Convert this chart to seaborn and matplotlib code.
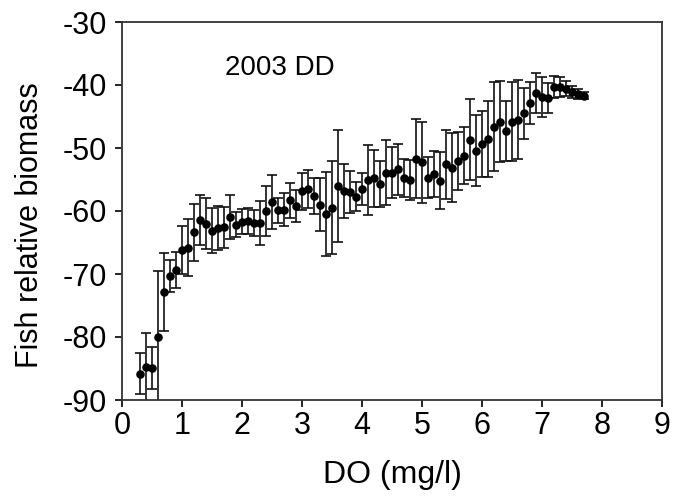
import matplotlib
matplotlib.use("Agg")
import matplotlib.pyplot as plt
import seaborn as sns
import pandas as pd

do_values = [0.3, 0.4, 0.5, 0.6, 0.7, 0.8, 0.9, 1.0, 1.1, 1.2, 1.3, 1.4, 1.5, 1.6, 1.7,
             1.8, 1.9, 2.0, 2.1, 2.2, 2.3, 2.4, 2.5, 2.6, 2.7, 2.8, 2.9, 3.0, 3.1, 3.2,
             3.3, 3.4, 3.5, 3.6, 3.7, 3.8, 3.9, 4.0, 4.1, 4.2, 4.3, 4.4, 4.5, 4.6, 4.7,
             4.8, 4.9, 5.0, 5.1, 5.2, 5.3, 5.4, 5.5, 5.6, 5.7, 5.8, 5.9, 6.0, 6.1, 6.2,
             6.3, 6.4, 6.5, 6.6, 6.7, 6.8, 6.9, 7.0, 7.1, 7.2, 7.3, 7.4, 7.5, 7.6, 7.7]

biomass = [-85.8, -84.8, -84.9, -80.0, -72.8, -70.3, -69.4, -66.2, -65.8, -63.4,
           -61.4, -62.0, -63.1, -62.7, -62.6, -61.0, -62.2, -61.7, -61.6, -61.9,
           -61.9, -60.0, -58.6, -59.9, -59.8, -58.3, -59.2, -56.9, -56.5, -57.6,
           -59.0, -60.5, -59.5, -56.0, -56.8, -57.0, -57.7, -56.5, -55.1, -54.8,
           -55.7, -53.9, -53.9, -53.4, -54.8, -55.1, -51.7, -52.3, -54.7, -54.1,
           -55.2, -52.6, -53.1, -52.1, -51.2, -48.7, -50.4, -49.4, -48.6, -46.6,
           -45.8, -47.3, -45.8, -45.5, -44.5, -42.9, -41.3, -41.9, -42.1, -40.3,
           -40.3, -40.6, -41.1, -41.4, -41.7]

errors = [3.3, 5.5, 3.3, 10.4, 6.2, 2.5, 2.9, 3.8, 4.5, 4.5,
          4.0, 4.0, 3.5, 3.5, 3.2, 3.5, 2.0, 2.0, 2.0, 2.0,
          3.5, 4.0, 4.3, 2.0, 2.6, 2.8, 2.5, 2.9, 3.0, 2.8,
          4.2, 6.7, 7.4, 8.9, 4.3, 3.3, 2.3, 2.5, 5.5, 4.5,
          3.7, 5.2, 4.0, 4.0, 3.0, 3.2, 6.3, 6.4, 3.3, 3.7,
          4.5, 5.5, 5.5, 4.6, 4.5, 6.4, 5.7, 5.2, 6.0, 7.0,
          6.4, 4.8, 6.2, 6.3, 4.0, 3.3, 3.2, 3.2, 2.4, 1.7,
          1.6, 1.2, 1.0, 0.8, 0.6]

x_ticks = [0, 1, 2, 3, 4, 5, 6, 7, 8, 9]
y_ticks = [-90, -80, -70, -60, -50, -40, -30]

df = pd.DataFrame({"DO": do_values, "biomass": biomass, "err": errors})

sns.set_style("ticks")
plt.rcParams["font.family"] = ["Liberation Sans", "DejaVu Sans"]
plt.rcParams["axes.unicode_minus"] = False

fig = plt.figure(figsize=(6.79, 5.04), dpi=100)
ax = fig.add_axes([122 / 679, 1 - 400 / 504, (662 - 122) / 679, (400 - 22) / 504])

ax.errorbar(df["DO"], df["biomass"], yerr=df["err"], fmt="none",
            ecolor="#111111", elinewidth=1.2, capsize=3.5, capthick=1.2, zorder=2)
sns.scatterplot(data=df, x="DO", y="biomass", ax=ax, color="black", s=38,
                edgecolor="black", linewidth=0, zorder=3)

ax.set_xlim(0, 9)
ax.set_ylim(-90, -30)
ax.set_xticks(x_ticks)
ax.set_yticks(y_ticks)
ax.tick_params(axis="both", direction="out", length=5, width=1.2,
               labelsize=22, colors="black")
ax.tick_params(axis="x", pad=3)
ax.tick_params(axis="y", pad=6)
for side in ["left", "bottom", "top", "right"]:
    ax.spines[side].set_visible(True)
    ax.spines[side].set_color("#333333")
    ax.spines[side].set_linewidth(1.3)

ax.set_xlabel("DO (mg/l)", fontsize=23, color="black")
ax.set_ylabel("Fish relative biomass", fontsize=22, color="black")
ax.xaxis.set_label_coords(0.5, -0.158)
ax.yaxis.set_label_coords(-0.143, 0.463)
ax.text(1.72, -37.3, "2003 DD", fontsize=20, va="center", ha="left", color="black")

fig.savefig("out.png", dpi=100)
